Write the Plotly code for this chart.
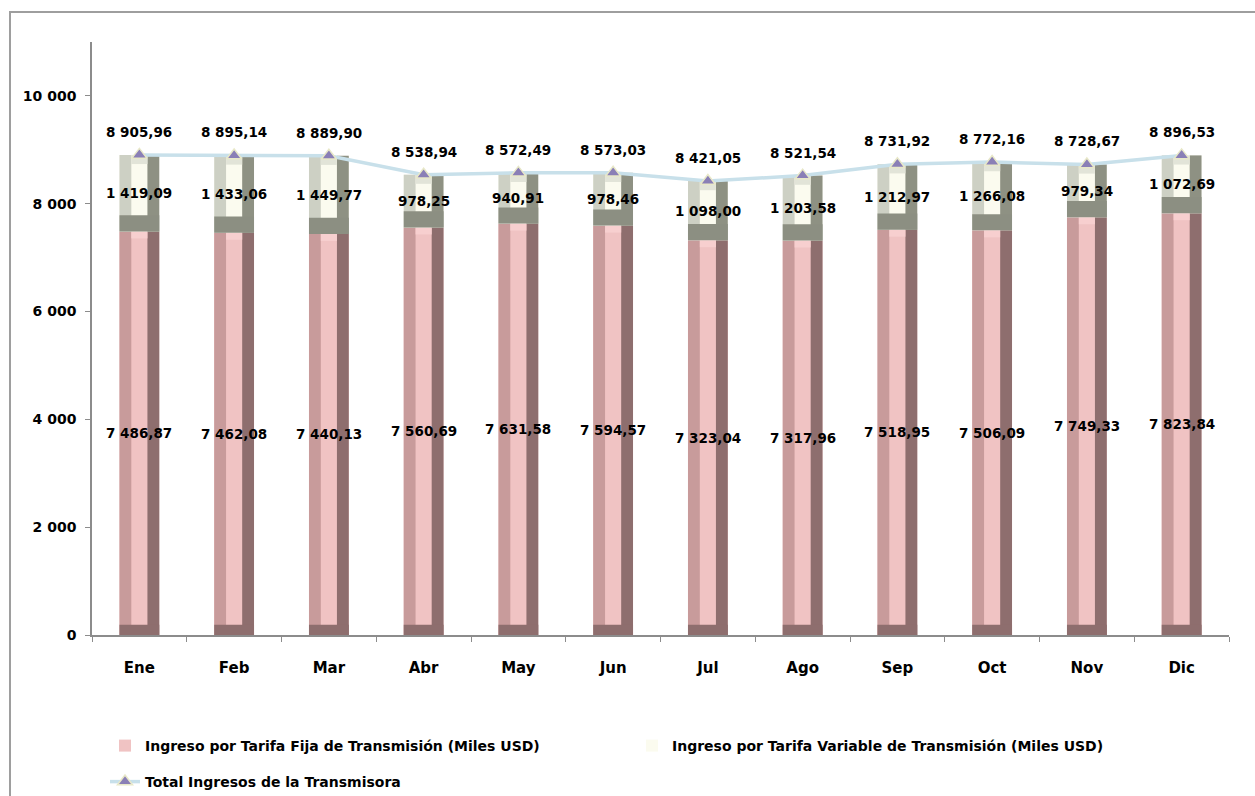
import plotly.graph_objects as go

# Monthly transmission revenue (thousand USD)
meses = ["Ene", "Feb", "Mar", "Abr", "May", "Jun", "Jul", "Ago", "Sep", "Oct", "Nov", "Dic"]
tarifa_fija = [7486.87, 7462.08, 7440.13, 7560.69, 7631.58, 7594.57,
               7323.04, 7317.96, 7518.95, 7506.09, 7749.33, 7823.84]
tarifa_variable = [1419.09, 1433.06, 1449.77, 978.25, 940.91, 978.46,
                   1098.00, 1203.58, 1212.97, 1266.08, 979.34, 1072.69]
total_ingresos = [8905.96, 8895.14, 8889.90, 8538.94, 8572.49, 8573.03,
                  8421.05, 8521.54, 8731.92, 8772.16, 8728.67, 8896.53]

y_ticks = [0, 2000, 4000, 6000, 8000, 10000]
y_tick_labels = ["0", "2 000", "4 000", "6 000", "8 000", "10 000"]

NOMBRE_FIJA = "Ingreso por Tarifa Fija de Transmisión (Miles USD)"
NOMBRE_VAR = "Ingreso por Tarifa Variable de Transmisión (Miles USD)"
NOMBRE_TOTAL = "Total Ingresos de la Transmisora"

FONT = "DejaVu Sans"


def fmt(v):
    s = f"{v:,.2f}"
    return s.replace(",", " ").replace(".", ",")


# bevelled column look: full body, side bands, bevel strips at bottom/top
BAR_W = 0.42
SIDE_W = 0.125


def bevel_bar(fig, bases, heights, colors, name, bottom_h, top_h):
    left, center, right, top_col, bottom_col = colors
    half = BAR_W / 2
    # body (center tone) - legend entry
    fig.add_trace(go.Bar(x=meses, y=heights, base=bases, width=BAR_W, offset=-half,
                         marker=dict(color=center, line=dict(width=0)), name=f"<b>{name}</b>",
                         showlegend=True, hoverinfo="skip", legendgroup=name, legend="legend"))
    # left band
    fig.add_trace(go.Bar(x=meses, y=heights, base=bases, width=SIDE_W, offset=-half,
                         marker=dict(color=left, line=dict(width=0)),
                         showlegend=False, hoverinfo="skip", legendgroup=name))
    # right band
    fig.add_trace(go.Bar(x=meses, y=heights, base=bases, width=SIDE_W, offset=half - SIDE_W,
                         marker=dict(color=right, line=dict(width=0)),
                         showlegend=False, hoverinfo="skip", legendgroup=name))
    # bottom bevel strip (shadow), full width
    fig.add_trace(go.Bar(x=meses, y=[bottom_h] * len(meses), base=bases, width=BAR_W,
                         offset=-half,
                         marker=dict(color=bottom_col, line=dict(width=0)),
                         showlegend=False, hoverinfo="skip", legendgroup=name))
    # top bevel strip (highlight)
    tops = [b + h - top_h for b, h in zip(bases, heights)]
    fig.add_trace(go.Bar(x=meses, y=[top_h] * len(meses), base=tops, width=BAR_W - 2 * SIDE_W,
                         offset=-half + SIDE_W,
                         marker=dict(color=top_col, line=dict(width=0)),
                         showlegend=False, hoverinfo="skip", legendgroup=name))


fig = go.Figure()

bevel_bar(fig, [0] * len(meses), tarifa_fija,
          ("#c89b9b", "#f0c3c3", "#8e6e6e", "#f7cfcf", "#8e6e6e"), NOMBRE_FIJA, 190, 130)
bevel_bar(fig, tarifa_fija, tarifa_variable,
          ("#cdd0c4", "#fbfbef", "#8e9183", "#e2e4d8", "#8c8f82"), NOMBRE_VAR, 300, 170)

fig.add_trace(go.Scatter(
    x=meses, y=total_ingresos, mode="lines+markers", name=f"<b>{NOMBRE_TOTAL}</b>",
    line=dict(color="#c8e0ea", width=3.5),
    marker=dict(symbol="triangle-up", size=13, color="#8a7fb6",
                line=dict(color="#e8e8c8", width=1.5)),
    hoverinfo="skip", legend="legend2",
))

annotations = []
lab_font = dict(family=FONT, size=13.5, color="black")
for m, f, v, t in zip(meses, tarifa_fija, tarifa_variable, total_ingresos):
    annotations.append(dict(x=m, y=f / 2, text=f"<b>{fmt(f)}</b>", showarrow=False, font=lab_font))
    annotations.append(dict(x=m, y=f + v / 2, text=f"<b>{fmt(v)}</b>", showarrow=False, font=lab_font))
    annotations.append(dict(x=m, y=t, text=f"<b>{fmt(t)}</b>", showarrow=False, font=lab_font, yshift=23))

# chart border (plot area spans x 92..1229 px, y 42..635 px)
L, R, T, B = 92, 26, 42, 161
pw, ph = 1255 - L - R, 796 - T - B
px = lambda p: (p - L) / pw
py = lambda p: (796 - B - p) / ph
shapes = [dict(type="rect", xref="paper", yref="paper",
               x0=px(10), x1=px(1262), y0=py(803), y1=py(12),
               line=dict(color="#9e9e9e", width=2), fillcolor="rgba(0,0,0,0)", layer="below")]

legend_font = dict(family=FONT, size=14, color="black")
fig.update_layout(
    width=1255, height=796,
    margin=dict(l=L, r=R, t=T, b=B, autoexpand=False),
    paper_bgcolor="white", plot_bgcolor="white",
    barmode="overlay",
    font=dict(family=FONT, color="black"),
    annotations=annotations,
    shapes=shapes,
    legend=dict(orientation="h", x=px(105), y=py(730), xanchor="left", yanchor="top",
                font=legend_font, entrywidth=482, entrywidthmode="pixels",
                traceorder="normal", bgcolor="rgba(0,0,0,0)"),
    legend2=dict(orientation="h", x=px(105), y=py(766), xanchor="left", yanchor="top",
                 font=legend_font, bgcolor="rgba(0,0,0,0)"),
    xaxis=dict(type="category", showline=True, linecolor="#8c8c8c", linewidth=1.5,
               ticks="outside", tickson="boundaries", ticklen=5, tickcolor="#8c8c8c",
               tickfont=dict(family=FONT, size=15, color="black"),
               ticklabelstandoff=18, showgrid=False, range=[-0.5, 11.5]),
    yaxis=dict(range=[0, 11000], showline=True, linecolor="#8c8c8c", linewidth=1.5,
               ticks="outside", ticklen=5, tickcolor="#8c8c8c", tickvals=y_ticks,
               ticktext=[f"<b>{t}</b>" for t in y_tick_labels],
               tickfont=dict(family=FONT, size=14, color="black"),
               ticklabelstandoff=6, showgrid=False, zeroline=False),
)
fig.update_xaxes(ticktext=[f"<b>{m}</b>" for m in meses], tickvals=meses)

fig.write_html("out.html")
